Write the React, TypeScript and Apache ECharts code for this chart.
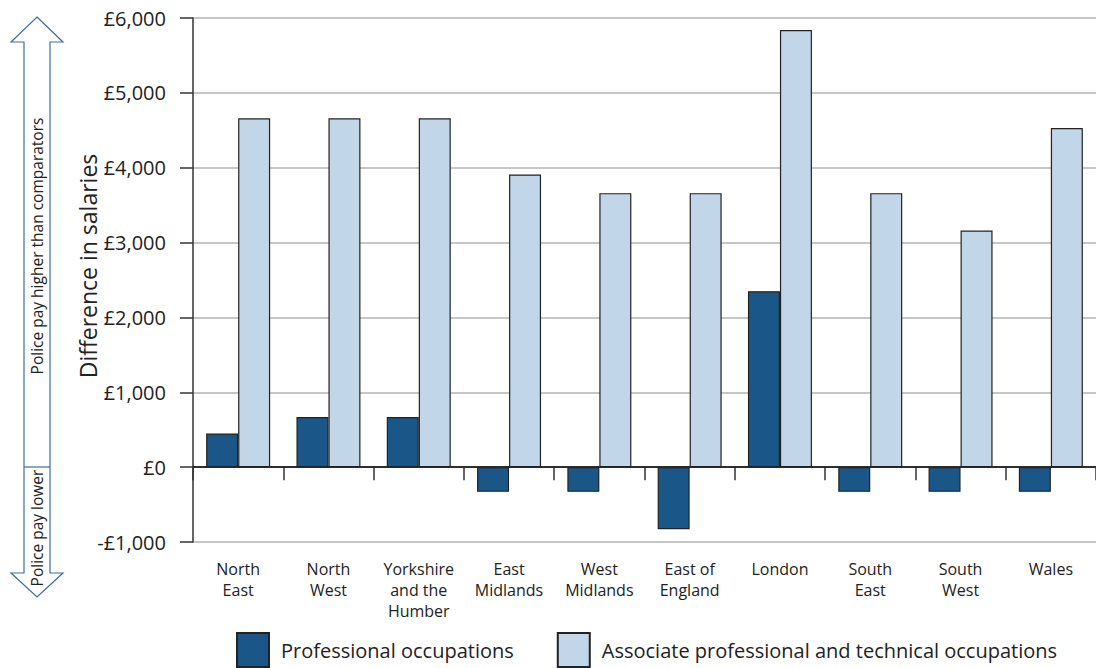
import React, { useEffect, useRef } from "react";
import * as echarts from "echarts";

const categories = [
  "North\nEast",
  "North\nWest",
  "Yorkshire\nand the\nHumber",
  "East\nMidlands",
  "West\nMidlands",
  "East of\nEngland",
  "London",
  "South\nEast",
  "South\nWest",
  "Wales",
];
const professional = [450, 670, 670, -330, -330, -830, 2350, -330, -330, -330];
const associate = [4660, 4660, 4660, 3910, 3660, 3660, 5840, 3660, 3160, 4530];
const seriesNames = ["Professional occupations", "Associate professional and technical occupations"];
const yTicks = { min: -1000, max: 6000, interval: 1000 };

const FONT = "Open Sans";
const ARROW = "#3a6ea6";

export default function App() {
  const ref = useRef<HTMLDivElement>(null);
  useEffect(() => {
    if (!ref.current) return;
    const chart = echarts.init(ref.current, null, { renderer: "svg" });
    const fmt = (v: number) => {
      const s = "£" + Math.abs(v).toLocaleString("en-GB");
      return v < 0 ? "-" + s : s;
    };
    chart.setOption({
      animation: false,
      textStyle: { fontFamily: FONT, color: "#222" },
      grid: { left: 193, top: 18, width: 908, bottom: 126, containLabel: false },
      legend: {
        left: 236,
        top: 632,
        padding: 0,
        itemWidth: 32,
        itemHeight: 34,
        itemGap: 43,
        icon: "rect",
        textStyle: { fontSize: 20, fontFamily: FONT, color: "#222", padding: [0, 0, 0, 7] },
        data: seriesNames,
      },
      xAxis: {
        type: "category",
        data: categories,
        axisLine: { lineStyle: { color: "#333", width: 1.5 } },
        axisTick: { show: true, alignWithLabel: false, length: 13, lineStyle: { color: "#333", width: 1.5 } },
        axisLabel: { fontSize: 16, lineHeight: 21, margin: 16, color: "#222", fontFamily: FONT, interval: 0 },
      },
      yAxis: {
        type: "value",
        min: yTicks.min,
        max: yTicks.max,
        interval: yTicks.interval,
        name: "Difference in salaries",
        nameLocation: "middle",
        nameGap: 94,
        nameMoveOverlap: false,
        nameTextStyle: { fontSize: 23, color: "#222", fontFamily: FONT, padding: [0, 0, 0, 28] },
        axisLine: { show: true, lineStyle: { color: "#333", width: 1.5 } },
        axisTick: { show: true, length: 13, lineStyle: { color: "#333", width: 1.5 } },
        axisLabel: { fontSize: 20, margin: 27, color: "#222", fontFamily: FONT, formatter: fmt },
        splitLine: { lineStyle: { color: "#b3b3b3", width: 1.5 } },
      },
      series: [
        {
          name: seriesNames[0],
          type: "bar",
          data: professional,
          barWidth: 32,
          barGap: "0%",
          itemStyle: { color: "#1a5788", borderColor: "#222", borderWidth: 1.2 },
          markLine: {
            silent: true,
            symbol: "none",
            label: { show: false },
            lineStyle: { color: "#222", width: 1.5, type: "solid" },
            data: [{ yAxis: 0 }],
          },
        },
        {
          name: seriesNames[1],
          type: "bar",
          data: associate,
          barWidth: 32,
          barGap: "0%",
          itemStyle: { color: "#c2d6ea", borderColor: "#222", borderWidth: 1.2 },
        },
      ],
      graphic: [
        {
          type: "polygon",
          shape: {
            points: [
              [37, 17], [63, 42], [50, 42], [50, 573], [63, 573], [37, 597],
              [11, 573], [24, 573], [24, 42], [11, 42],
            ],
          },
          style: { fill: "#fff", stroke: ARROW, lineWidth: 1.2 },
        },
        {
          type: "line",
          shape: { x1: 24, y1: 467, x2: 50, y2: 467 },
          style: { stroke: ARROW, lineWidth: 1.2 },
        },
        {
          type: "text",
          x: 37,
          y: 246,
          rotation: Math.PI / 2,
          style: {
            text: "Police pay higher than comparators",
            fontSize: 15.5,
            fontFamily: FONT,
            fill: "#222",
            align: "center",
            verticalAlign: "middle",
          },
        },
        {
          type: "text",
          x: 37,
          y: 528,
          rotation: Math.PI / 2,
          style: {
            text: "Police pay lower",
            fontSize: 15.5,
            fontFamily: FONT,
            fill: "#222",
            align: "center",
            verticalAlign: "middle",
          },
        },
      ],
    });
    return () => chart.dispose();
  }, []);
  return (
    <div
      ref={ref}
      style={{ position: "fixed", left: 0, top: 0, width: 1096, height: 668, background: "#fff" }}
    />
  );
}
